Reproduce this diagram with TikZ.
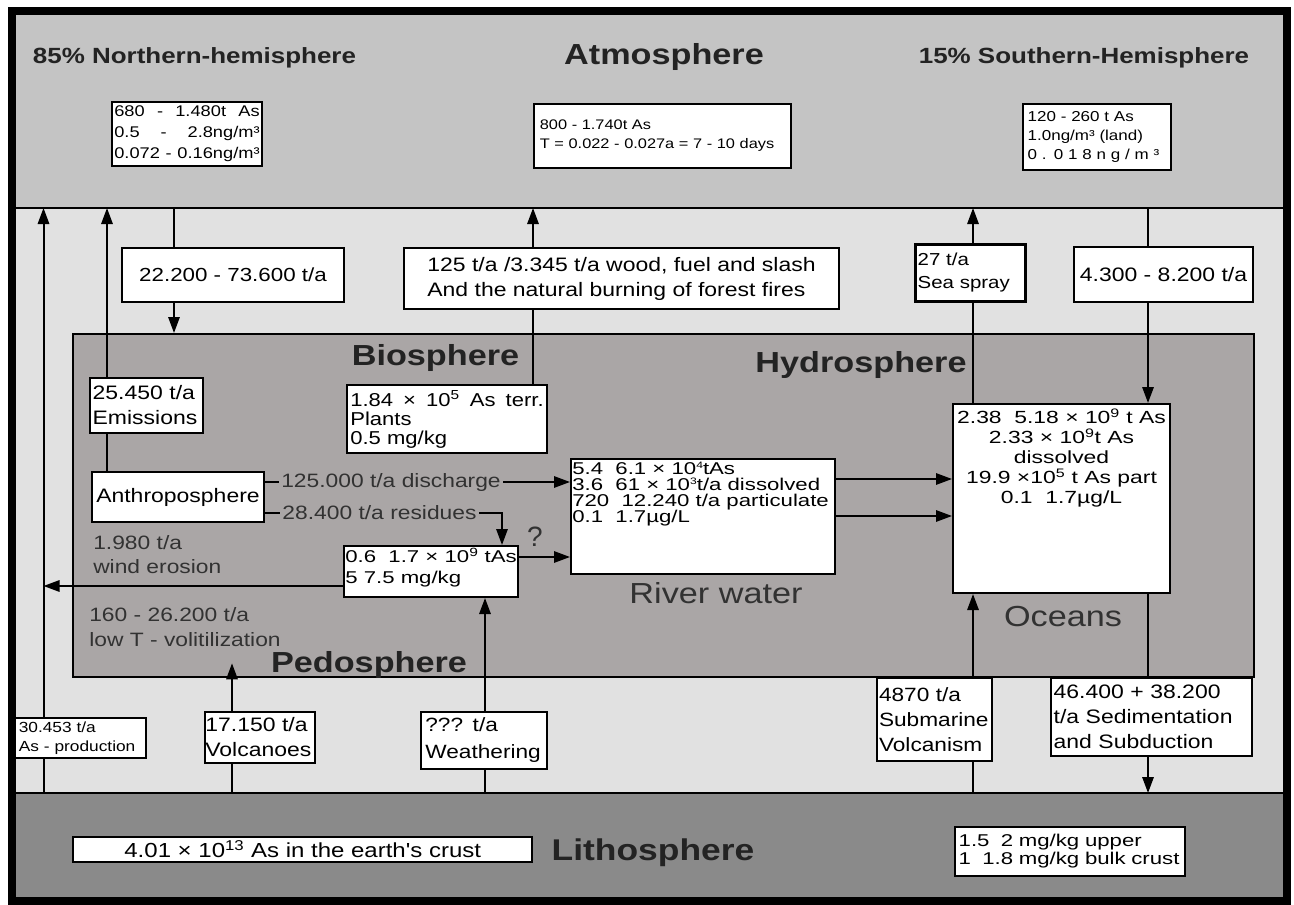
\documentclass[tikz,border=0pt]{standalone}
\usepackage{fontspec}
\setmainfont{Liberation Sans}
\newfontfamily\wide[FakeStretch=1.18]{Liberation Sans}
\newfontfamily\wider[FakeStretch=1.3]{Liberation Sans}
\usetikzlibrary{arrows.meta}
\definecolor{atmc}{RGB}{196,196,196}
\definecolor{midc}{RGB}{225,225,225}
\definecolor{innc}{RGB}{170,166,166}
\definecolor{lithc}{RGB}{138,138,138}
\definecolor{titc}{RGB}{35,35,35}
\definecolor{lblc}{RGB}{50,50,50}
\newcommand\fz[2]{\fontsize{#1pt}{#2pt}\selectfont\lineskiplimit=-50pt\lineskip=0pt}
\newcommand\sps[1]{\raisebox{0.35em}{\fontsize{7pt}{7pt}\selectfont #1}}
\pgfdeclarelayer{back}
\pgfdeclarelayer{conn}
\pgfsetlayers{back,conn,main}
\begin{document}
\begin{tikzpicture}[x=0.75pt,y=-0.75pt,
  arr/.style={line width=1.5pt,-{Triangle[length=12pt,width=8.5pt]}},
  box/.style={draw,fill=white,line width=1.5pt,inner sep=0pt},
  band/.style={inner sep=0pt,outer sep=0pt,draw=none},
  ttl/.style={text=titc,inner sep=0pt,font=\wide\bfseries\fz{21.75}{24}},
  lbl/.style={text=lblc,inner sep=0pt},
  txt/.style={inner sep=0pt,align=left}]
\useasboundingbox (0,0) rectangle (1294,905);
\begin{pgfonlayer}{back}
\fill[white] (0,0) rectangle (1294,905);
\node[band,fill=atmc,minimum width=956.25pt,minimum height=147.4pt] (atm) at (649.5,109.75) {};
\node[band,fill=midc,minimum width=956.25pt,minimum height=438.75pt] (midband) at (649.5,500.5) {};
\node[band,fill=lithc,minimum width=956.25pt,minimum height=80.25pt] (lith) at (649.5,846.5) {};
\node[draw,fill=innc,line width=1.5pt,inner sep=0pt,minimum width=885.75pt,minimum height=257.25pt] (inner) at (663.5,505.5) {};
\draw[line width=1.5pt] (atm.south west) -- (atm.south east);
\draw[line width=1.5pt] (lith.north west) -- (lith.north east);
\end{pgfonlayer}

% titles
\node[ttl,font=\wide\bfseries\fz{16.5}{18}] (tnorth) at (194.5,58) {85\% Northern-hemisphere};
\node[ttl] (tatm) at (664,57) {Atmosphere};
\node[ttl,font=\wide\bfseries\fz{16.5}{18}] (tsouth) at (1084,58) {15\% Southern-Hemisphere};
\node[ttl] (tbio) at (435.5,358) {Biosphere};
\node[ttl] (thyd) at (861,365) {Hydrosphere};
\node[ttl] (tped) at (369,665) {Pedosphere};
\node[ttl,font=\wide\bfseries\fz{22.5}{24}] (tlith) at (653,853) {Lithosphere};

% atmosphere boxes
\node[box,minimum width=112.5pt,minimum height=48pt,align=left,font=\wide\fz{11.6}{15.75}] (a680) at (187,134)
 {\makebox[109pt][s]{680 - 1.480t As}\\\makebox[109pt][s]{0.5 - 2.8ng/m³}\\\makebox[109pt][s]{0.072 - 0.16ng/m³}};
\node[box,minimum width=192.75pt,minimum height=48pt,text width=184pt,align=left,font=\wide\fz{10.4}{14.25}] (a800) at (662.5,136)
 {800 - 1.740t As\\T = 0.022 - 0.027a = 7 - 10 days};
\node[box,minimum width=111pt,minimum height=49.5pt,text width=104pt,align=left,font=\wide\fz{10.8}{14.25}] (a120) at (1097,137)
 {120 - 260 t As\\1.0ng/m³ (land)\\\makebox[104pt][s]{0 . 0 1 8 n g / m ³}};

% flux boxes upper
\node[box,minimum width=166.5pt,minimum height=40.5pt,font=\wide\fz{14.2}{16}] (b22) at (233,275) {22.200 - 73.600 t/a};
\node[box,minimum width=326.25pt,minimum height=45.75pt,align=left,font=\wide\fz{14.6}{18.75}] (b125) at (621.5,278.5)
 {125 t/a /3.345 t/a wood, fuel and slash\\And the natural burning of forest fires};
\node[box,line width=2.5pt,minimum width=82.25pt,minimum height=42.5pt,text width=79.25pt,align=left,font=\wide\fz{13}{17.25}] (bsea) at (970.5,273)
 {27 t/a\\Sea spray};
\node[box,minimum width=134.25pt,minimum height=41.25pt,font=\wide\fz{14.6}{16}] (b4300) at (1163.5,274.5) {4.300 - 8.200 t/a};

% inner boxes
\node[box,minimum width=84.75pt,minimum height=41.25pt,text width=80.75pt,align=left,font=\wide\fz{14.6}{18.75}] (emis) at (146.5,405.5)
 {25.450 t/a\\Emissions};
\node[box,minimum width=150pt,minimum height=51pt,align=left,font=\wide\fz{14}{14.25}] (bio) at (447,419)
 {\makebox[145pt][s]{1.84 × 10\textsuperscript{5} As terr.}\\Plants\\0.5 mg/kg};
\node[box,minimum width=129pt,minimum height=37.5pt,font=\wide\fz{14.6}{16}] (anthro) at (178,497) {Anthroposphere};
\node[box,minimum width=130.5pt,minimum height=38.25pt] (soil) at (431,571.5) {};
\node[txt,anchor=north west,font=\wider\fz{12.8}{15.75}] (soiltxt) at ([xshift=1.5pt,yshift=-2.5pt]soil.north west)
 {0.6~~1.7 × 10\textsuperscript{9} tAs\\5 7.5 mg/kg};
\node[box,minimum width=198pt,minimum height=86.25pt] (river) at (703,516.5) {};
\node[txt,anchor=north west,font=\wider\fz{12.8}{12}] (rivertxt) at ([xshift=1.5pt,yshift=-3pt]river.north west)
 {5.4~~6.1 × 10\sps{4}tAs\\3.6~~61 × 10\sps{3}t/a dissolved\\720~~12.240 t/a particulate\\0.1~~1.7µg/L};
\node[box,minimum width=162.75pt,minimum height=141.75pt] (oceans) at (1061.5,498.5) {};
\node[inner sep=0pt,align=center,anchor=north,font=\wider\fz{13.2}{15}] (oceantxt) at ([yshift=-4pt]oceans.north)
 {2.38~~5.18 × 10\textsuperscript{9} t As\\2.33 × 10\textsuperscript{9}t As\\dissolved\\19.9 ×10\textsuperscript{5} t As part\\0.1~~1.7µg/L};

% free labels
\node[lbl,fill=innc,inner xsep=2pt,inner ysep=1pt,font=\wide\fz{14.5}{16}] (ldis) at (391,482) {125.000 t/a discharge};
\node[lbl,fill=innc,inner xsep=2pt,inner ysep=1pt,font=\wide\fz{14.5}{16}] (lres) at (379.5,513) {28.400 t/a residues};
\node[lbl,font=\fz{21}{22}] (lq) at (535,537) {?};
\node[lbl,align=left,anchor=west,font=\wide\fz{14.5}{18}] (lwind) at (93,555) {1.980 t/a\\wind erosion};
\node[lbl,align=left,anchor=west,font=\wide\fz{14.5}{18.75}] (lvol) at (89,627.5) {160 - 26.200 t/a\\low T - volitilization};
\node[lbl,font=\wide\fz{21.75}{24}] (lriver) at (716,593) {River water};
\node[lbl,font=\wide\fz{21.75}{24}] (locean) at (1063,617) {Oceans};

% lower flux boxes
\node[box,minimum width=97.9pt,minimum height=30pt,text width=92.9pt,align=left,font=\wide\fz{11}{14.25}] (prod) at (80.75,738)
 {30.453 t/a\\As - production};
\node[box,minimum width=82.5pt,minimum height=38.25pt,text width=82pt,align=left,font=\wide\fz{14.6}{18.75}] (volc) at (260,737.5)
 {17.150 t/a\\Volcanoes};
\node[box,minimum width=94.5pt,minimum height=42.75pt,text width=88pt,align=left,font=\wide\fz{14.4}{20.25}] (weath) at (484,740.5)
 {??? t/a\\Weathering};
\node[box,minimum width=86.25pt,minimum height=62.25pt,text width=83.25pt,align=left,font=\wide\fz{14.4}{18.75}] (subm) at (934.5,719.5)
 {4870 t/a\\Submarine\\Volcanism};
\node[box,minimum width=150.75pt,minimum height=58.5pt,text width=146.75pt,align=left,font=\wide\fz{14.6}{18.75}] (sedi) at (1151.5,717)
 {46.400 + 38.200\\t/a Sedimentation\\and Subduction};

% lithosphere boxes
\node[box,minimum width=343.9pt,minimum height=18.75pt,font=\wide\fz{15.25}{16}] (crust) at (302.75,849.5)
 {4.01 × 10\textsuperscript{13} As in the earth's crust};
\node[box,minimum width=172.5pt,minimum height=36.75pt,text width=167pt,align=left,font=\wider\fz{12.8}{13.5}] (lbox) at (1070,851.5)
 {1.5~~2 mg/kg upper\\1~~1.8 mg/kg bulk crust};

% x / y positions of connectors
\coordinate (xa) at (43.5,0);
\coordinate (xb) at (107,0);
\coordinate (xc) at (174,0);
\coordinate (xd) at (533,0);
\coordinate (xe) at (973,0);
\coordinate (xf) at (1148,0);
\coordinate (xh) at (502,0);
\coordinate (xk) at (485,0);
\coordinate (xl) at (232,0);
\coordinate (yg) at (0,482);
\coordinate (yh) at (0,513);
\coordinate (yi) at (0,557);
\coordinate (yj) at (0,586);
\coordinate (ym1) at (0,479);
\coordinate (ym2) at (0,516);

\begin{pgfonlayer}{conn}
\draw[arr] (xa |- lith.north) -- (xa |- atm.south);
\draw[arr] (xb |- anthro.north) -- (xb |- atm.south);
\draw[arr] (xc |- atm.south) -- (xc |- inner.north);
\draw[arr] (xd |- bio.north) -- (xd |- atm.south);
\draw[arr] (xe |- oceans.north) -- (xe |- atm.south);
\draw[arr] (xf |- atm.south) -- (xf |- oceans.north);
\draw[arr] (anthro.east |- yg) -- (river.west |- yg);
\draw[arr] (anthro.east |- yh) -- (xh |- yh) -- (xh |- soil.north);
\draw[arr] (soil.east |- yi) -- (river.west |- yi);
\draw[arr] (soil.west |- yj) -- (xa |- yj);
\draw[arr] (xk |- lith.north) -- (xk |- soil.south);
\draw[arr] (xl |- lith.north) -- ([yshift=11pt]xl |- inner.south);
\draw[arr] (river.east |- ym1) -- (oceans.west |- ym1);
\draw[arr] (river.east |- ym2) -- (oceans.west |- ym2);
\draw[arr] (xe |- lith.north) -- (xe |- oceans.south);
\draw[arr] (xf |- oceans.south) -- (xf |- lith.north);
\end{pgfonlayer}

\draw[line width=6pt] (12,11.5) rectangle (1287,900.5);
\end{tikzpicture}
\end{document}
